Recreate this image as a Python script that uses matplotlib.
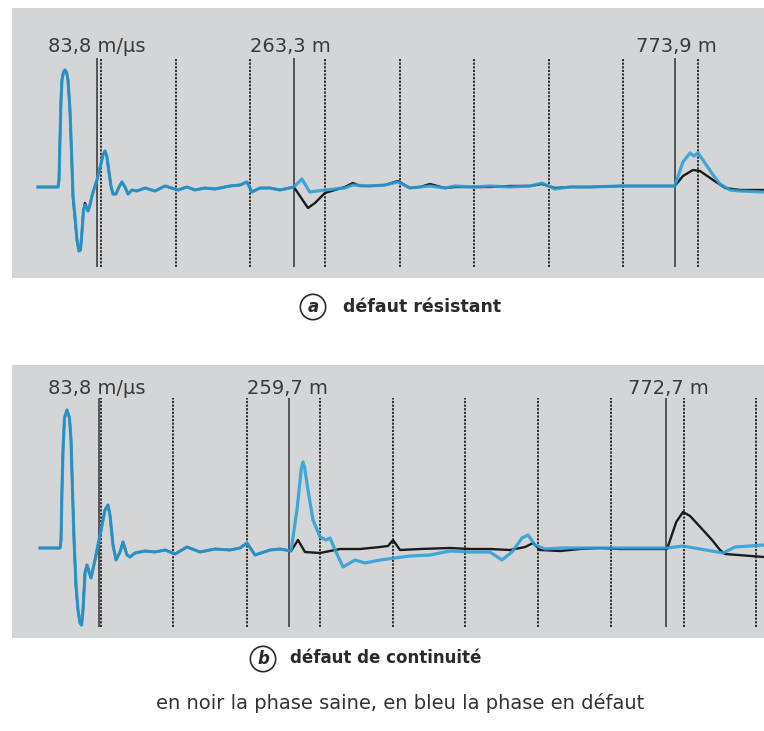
# reflectometrie : defaut resistant / defaut de continuite

import matplotlib.pyplot as plt

# ---- panneau a : defaut resistant (x en m, amplitude en unites arbitraires)
xa_bleu = [-79.8, -52.9, -51.6, -50.3, -48.9, -47.6, -45.6, -43.6, -41.6, -39.5, -38.2, -36.9,
           -34.9, -32.8, -30.2, -27.5, -24.8, -22.8, -20.8, -18.8, -16.8, -14.7, -12.7, -10.1,
           -7.4, -3.4, -0.7, 3.4, 7.4, 10.1, 12.7, 15.4, 18.1, 20.8, 24.8, 28.8, 32.8, 36.9,
           40.9, 46.2, 52.9, 63.7, 77.1, 90.5, 107.9, 120, 130.7,
           144.1, 157.5, 177.6, 191, 200.4, 207.1, 217.8, 231.2, 244.6, 263.3, 274, 284.6,
           304.8, 318.3, 331.7, 342.5, 365.1, 385.4, 402.8, 418.9, 432.3, 445.7, 465.8, 479.2,
           506, 526.1, 552.9, 579.8, 595.8, 613.3, 633.4, 660.2, 700.4, 740.6, 774, 784.9,
           794.4, 799.7, 805.1, 814.5, 825.3, 834.7, 848.1, 861.5, 893.6]
ya_bleu = [-0.1, -0.1, 0.6, 4.6, 8.6, 10.6, 11.4, 11.6, 11.4, 10.6, 9.1, 7.6,
           3.6, -0.9, -3.0, -5.4, -6.5, -6.4, -4.6, -2.6, -1.9, -2.1, -2.5, -1.9,
           -1.0, 0.0, 0.6, 1.8, 3.1, 3.5, 2.9, 1.4, 0.0, -0.8, -0.8, -0.1, 0.4, -0.1,
           -0.8, -0.4, -0.5, -0.2, -0.5, 0.0, -0.4, -0.1, -0.4,
           -0.2, -0.3, 0.0, 0.1, 0.4, -0.6, -0.2, -0.2, -0.4, -0.1, 0.7, -0.6,
           -0.4, -0.3, -0.2, 0.1, 0.0, 0.1, 0.4, -0.2, -0.1, 0.0, -0.2, 0.0,
           -0.1, 0.0, -0.1, 0.0, 0.3, -0.3, -0.1, -0.1, 0.0, 0.0, 0.0, 2.4,
           3.3, 3.0, 3.3, 2.3, 1.1, 0.2, -0.4, -0.5, -0.6]

xa_noir = [-79.8, -52.9, -51.6, -50.3, -48.9, -47.6, -45.6, -43.6, -41.6, -39.5, -38.2, -36.9,
           -34.9, -32.8, -30.2, -27.5, -24.8, -22.8, -20.8, -18.8, -16.8, -14.7, -12.7, -10.1,
           -7.4, -3.4, -0.7, 3.4, 7.4, 10.1, 12.7, 15.4, 18.1, 20.8, 24.8, 28.8, 32.8, 36.9,
           40.9, 46.2, 52.9, 63.7, 77.1, 90.5, 107.9, 120, 130.7,
           144.1, 157.5, 177.6, 191, 200.4, 207.1, 217.8, 231.2, 244.6, 263.3, 271.4, 282.2,
           291.6, 304.8, 318.3, 331.7, 342.5, 351.9, 365.1, 385.4, 402.8, 418.9, 432.3, 445.7,
           465.8, 479.2, 506, 526.1, 552.9, 579.8, 595.8, 613.3, 633.4, 660.2, 700.4, 740.6,
           774, 784.9, 798.4, 807.8, 825.3, 841.6, 861.5, 893.6]
ya_noir = [-0.1, -0.1, 0.6, 4.6, 8.6, 10.6, 11.4, 11.6, 11.4, 10.6, 9.1, 7.6,
           3.6, -1.2, -3.2, -5.4, -6.5, -6.4, -4.6, -2.4, -1.7, -2.1, -2.5, -1.9,
           -1.0, 0.0, 0.6, 1.8, 3.1, 3.5, 2.9, 1.4, 0.0, -0.8, -0.8, -0.1, 0.4, -0.1,
           -0.8, -0.4, -0.5, -0.2, -0.5, 0.0, -0.4, -0.1, -0.4,
           -0.2, -0.3, 0.0, 0.1, 0.4, -0.6, -0.2, -0.2, -0.4, -0.1, -1.0, -2.2,
           -1.7, -0.7, -0.4, -0.1, 0.3, 0.0, 0.0, 0.1, 0.5, -0.2, -0.1, 0.2,
           -0.2, -0.1, -0.1, -0.1, 0.0, 0.0, 0.2, -0.2, -0.1, -0.1, 0.0, 0.0,
           0.0, 1.0, 1.6, 1.5, 0.6, -0.2, -0.4, -0.4]

# ---- panneau b : defaut de continuite
xb_bleu = [-79.6, -52.4, -51, -49.7, -48.3, -46.3, -42.9, -39.5, -37.4, -35.4, -33.3, -30.6,
           -27.9, -25.2, -23.1, -21.1, -18.4, -15.6, -12.9, -10.2, -4.8, -0.7, 4.8, 8.8, 12.9,
           15.6, 19.7, 23.8, 29.3, 33.3, 38.8, 42.9, 49.7, 63.3, 76.9, 90.5, 104.1, 120.4, 138.1,
           158.5, 178.9, 192.5, 202, 212.9, 233.3, 246.9, 261.9, 270, 276, 278.2, 280.5, 285,
           291.8, 301.4, 309.5, 315, 323.1, 332.7, 349, 362.6, 383, 403.4, 423.8, 451, 478.2,
           505.4, 532.6, 548.9, 562.6, 576.2, 584.4, 593.9, 607.5, 627.9, 655.1, 682.3, 709.5,
           736.7, 773.5, 795.2, 818.4, 849.7, 866, 905.4]
yb_bleu = [0.2, 0.2, 1.0, 6.0, 10.0, 13.2, 14.0, 13.2, 11.0, 6.0, 1.0, -3.5,
           -6.0, -7.3, -7.5, -6.0, -2.5, -1.5, -2.2, -2.8, -1.0, 0.5, 2.5, 4.0, 4.5,
           3.5, 0.5, -1.0, -0.2, 0.8, -0.5, -0.7, -0.3, -0.1, -0.2, 0.0, -0.4, 0.3, -0.2,
           0.1, 0.0, 0.2, 0.7, -0.5, 0.0, 0.1, -0.1, 4.0, 8.2, 8.8, 8.2, 6.0,
           3.0, 1.3, 1.0, 1.2, -0.2, -1.7, -1.0, -1.3, -1.0, -0.8, -0.6, -0.5, -0.1,
           -0.2, -0.2, -1.0, -0.2, 1.2, 1.5, 0.5, 0.1, 0.2, 0.2, 0.2, 0.2,
           0.2, 0.2, 0.4, 0.1, -0.3, 0.3, 0.5]

xb_noir = [-79.6, -52.4, -51, -49.7, -48.3, -46.3, -42.9, -39.5, -37.4, -35.4, -33.3, -30.6,
           -27.9, -25.2, -23.1, -21.1, -18.4, -15.6, -12.9, -10.2, -4.8, -0.7, 4.8, 8.8, 12.9,
           15.6, 19.7, 23.8, 29.3, 33.3, 38.8, 42.9, 49.7, 63.3, 76.9, 90.5, 104.1, 120.4, 138.1,
           158.5, 178.9, 192.5, 202, 212.9, 233.3, 246.9, 261.9, 271.4, 280.9, 301.4, 328.6,
           355.8, 383, 393.9, 400.7, 410.2, 437.4, 478.2, 505.4, 532.6, 559.9, 580.3, 591.2,
           600.7, 627.9, 655.1, 682.3, 709.5, 736.7, 773.5, 786, 795.2, 804.8, 822.4, 834.7,
           845.6, 852.4, 905.4]
yb_noir = [0.2, 0.2, 1.0, 6.0, 10.0, 13.2, 14.0, 13.2, 11.0, 6.0, 1.0, -3.8,
           -6.0, -7.3, -7.5, -6.0, -2.2, -1.5, -2.2, -2.8, -1.0, 0.5, 2.5, 4.0, 4.5,
           3.5, 0.5, -1.0, -0.2, 0.8, -0.5, -0.7, -0.3, -0.1, -0.2, 0.0, -0.4, 0.3, -0.2,
           0.1, 0.0, 0.2, 0.7, -0.5, 0.0, 0.1, -0.1, 1.0, -0.2, -0.3, 0.1,
           0.1, 0.3, 0.4, 1.0, 0.0, 0.1, 0.2, 0.1, 0.1, 0.0, 0.3, 0.7,
           0.0, -0.1, 0.1, 0.2, 0.1, 0.1, 0.1, 2.8, 3.8, 3.4, 2.0, 1.0,
           0.0, -0.4, -0.7]

# curseurs (m) et graduations pointillees (m)
curseurs_a = [0, 263.3, 773.9]
grille_a = [4.7, 105, 205, 305, 405, 505, 605, 705, 805]
curseurs_b = [0, 259.7, 772.7]
grille_b = [3, 102, 202, 301, 400, 499, 598, 697, 796, 895]

etiq_a = ["83,8 m/µs", "263,3 m", "773,9 m"]
etiq_b = ["83,8 m/µs", "259,7 m", "772,7 m"]

GRIS = "#d4d5d7"
BLEU = "#2b9fd8"
NOIR = "#1b1b1b"
TXT = "#3a3a3a"


def panneau(ax, xn, yn, xb, yb, curseurs, grille, etiq, pos_etiq, ybas, yhaut, xlim, ylim):
    ax.set_facecolor(GRIS)
    for s in ax.spines.values():
        s.set_visible(False)
    ax.set_xticks([])
    ax.set_yticks([])
    ax.vlines(grille, ybas, yhaut, colors="#202020", lw=1.3, linestyles=(0, (1.2, 0.8)), zorder=1)
    ax.vlines(curseurs, ybas, yhaut, colors="#4a4a4a", lw=1.3, zorder=1)
    ax.plot(xn, yn, color=NOIR, lw=1.7, zorder=2, solid_joinstyle="round")
    ax.plot(xb, yb, color=BLEU, lw=2.3, alpha=0.88, zorder=3, solid_joinstyle="round")
    for t, (x, y) in zip(etiq, pos_etiq):
        ax.text(x, y, t, ha="left", va="center", fontsize=14, color=TXT)
    ax.set_xlim(*xlim)
    ax.set_ylim(*ylim)


fig = plt.figure(figsize=(7.64, 7.31), dpi=100)
ax1 = fig.add_axes([12 / 764, 1 - 278 / 731, 752 / 764, 270 / 731])
ax2 = fig.add_axes([12 / 764, 1 - 638 / 731, 752 / 764, 273 / 731])

panneau(ax1, xa_noir, ya_noir, xa_bleu, ya_bleu, curseurs_a, grille_a, etiq_a,
        [(-66.4, 13.9), (204.4, 13.9), (721.8, 13.9)], -8.1, 12.8,
        (-114.6, 893.6), (-9.2, 17.8))
panneau(ax2, xb_noir, yb_noir, xb_bleu, yb_bleu, curseurs_b, grille_b, etiq_b,
        [(-68.7, 16.2), (202, 16.2), (720.4, 16.2)], -7.7, 15.2,
        (-117.7, 905.4), (-8.8, 18.5))

# titres
rond = dict(boxstyle="circle,pad=0.22", fc="none", ec="#2a2a2a", lw=1.2)
fig.text(313 / 764, 1 - 307 / 731, "a", ha="center", va="center", fontsize=12,
         fontweight="bold", style="italic", color="#2a2a2a", bbox=rond)
fig.text(343 / 764, 1 - 307 / 731, "défaut résistant", ha="left", va="center",
         fontsize=12.5, fontweight="bold", color="#2a2a2a")
fig.text(263 / 764, 1 - 659 / 731, "b", ha="center", va="center", fontsize=12,
         fontweight="bold", style="italic", color="#2a2a2a", bbox=rond)
fig.text(290 / 764, 1 - 658 / 731, "défaut de continuité", ha="left", va="center",
         fontsize=12, fontweight="bold", color="#2a2a2a")

fig.text(400 / 764, 1 - 703 / 731, "en noir la phase saine, en bleu la phase en défaut",
         ha="center", va="center", fontsize=14, color="#333333")

plt.savefig("out.png", dpi=100)
